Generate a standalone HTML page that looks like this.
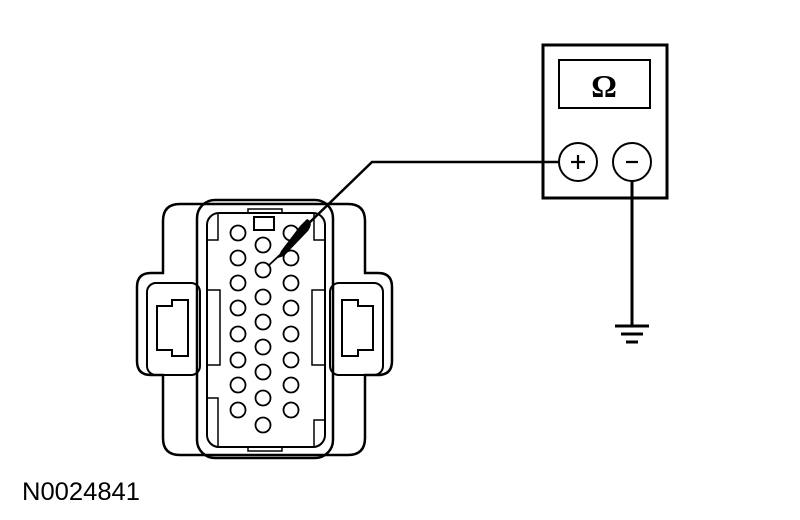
<!DOCTYPE html>
<html><head><style>html,body{margin:0;padding:0;background:#fff;}svg{display:block}</style></head>
<body>
<svg width="800" height="520" viewBox="0 0 800 520" xmlns="http://www.w3.org/2000/svg">
<g fill="none" stroke="#000" stroke-width="2.5">
<path d="M180 204 H348 Q365 204 365 221 V273 H378 Q392 273 392 287 V361 Q392 375 378 375 H365 V438 Q365 455 348 455 H180 Q163 455 163 438 V375 H151 Q137 375 137 361 V287 Q137 273 151 273 H163 V221 Q163 204 180 204 Z"/>
<rect x="197" y="200" width="136" height="258" rx="18"/>
<rect x="207" y="213" width="118" height="234" rx="12" stroke-width="2"/>
<rect x="147" y="283" width="53" height="92" rx="9" stroke-width="2"/>
<rect x="330" y="283" width="53" height="92" rx="9" stroke-width="2"/>
<path d="M157 306 H172 V300 H188 V356 H172 V350 H157 Z" stroke-width="2"/>
<path d="M373 306 H358 V300 H342 V356 H358 V350 H373 Z" stroke-width="2"/>
<path d="M207 290 H220 V365 H207" stroke-width="1.5"/>
<path d="M325 290 H312 V365 H325" stroke-width="1.5"/>
<path d="M207 240 H218 V213" stroke-width="1.5"/>
<path d="M325 240 H314 V213" stroke-width="1.5"/>
<path d="M207 398 H218 V447" stroke-width="1.5"/>
<path d="M325 420 H314 V447" stroke-width="1.5"/>
<rect x="254" y="217" width="20" height="13" stroke-width="2"/>
<path d="M248 213 V209 H282 V213 M248 447 V451 H282 V447" stroke-width="1.5"/>
</g>
<g fill="#fff" stroke="#000" stroke-width="1.8">
<circle cx="238" cy="233" r="7.5"/><circle cx="238" cy="258" r="7.5"/><circle cx="238" cy="283" r="7.5"/><circle cx="238" cy="308" r="7.5"/><circle cx="238" cy="334" r="7.5"/><circle cx="238" cy="360" r="7.5"/><circle cx="238" cy="385" r="7.5"/><circle cx="238" cy="410" r="7.5"/>
<circle cx="291" cy="233" r="7.5"/><circle cx="291" cy="258" r="7.5"/><circle cx="291" cy="283" r="7.5"/><circle cx="291" cy="308" r="7.5"/><circle cx="291" cy="334" r="7.5"/><circle cx="291" cy="360" r="7.5"/><circle cx="291" cy="385" r="7.5"/><circle cx="291" cy="410" r="7.5"/>
<circle cx="263" cy="245" r="7.5"/><circle cx="263" cy="270" r="7.5"/><circle cx="263" cy="297" r="7.5"/><circle cx="263" cy="322" r="7.5"/><circle cx="263" cy="347" r="7.5"/><circle cx="263" cy="372" r="7.5"/><circle cx="263" cy="398" r="7.5"/><circle cx="263" cy="425" r="7.5"/>
</g>
<path d="M559 162 H372 L308 224" fill="none" stroke="#000" stroke-width="2.5"/>
<path d="M300 226 L307 219 Q314 222 308 231 L284 256 L278 258 L281 251 Z" fill="#000"/>
<path d="M268 266 L283 252" stroke="#000" stroke-width="1.8"/>
<rect x="543" y="45" width="124" height="153" fill="none" stroke="#000" stroke-width="3"/>
<rect x="559" y="60" width="91" height="48" fill="none" stroke="#000" stroke-width="2"/>
<text x="604" y="97" font-family="Liberation Serif, serif" font-size="32" font-weight="bold" text-anchor="middle">Ω</text>
<circle cx="578" cy="162" r="19" fill="#fff" stroke="#000" stroke-width="2"/>
<circle cx="632" cy="162" r="19" fill="#fff" stroke="#000" stroke-width="2"/>
<path d="M571 162 H585 M578 155 V169 M626 162 H638" stroke="#000" stroke-width="2.2"/>
<path d="M632 181 V326 M615 326 H649 M621 334 H643 M626 342 H638" stroke="#000" stroke-width="3"/>
<text x="22" y="500" font-family="Liberation Sans, sans-serif" font-size="25" textLength="118" lengthAdjust="spacingAndGlyphs">N0024841</text>
</svg>
</body></html>
